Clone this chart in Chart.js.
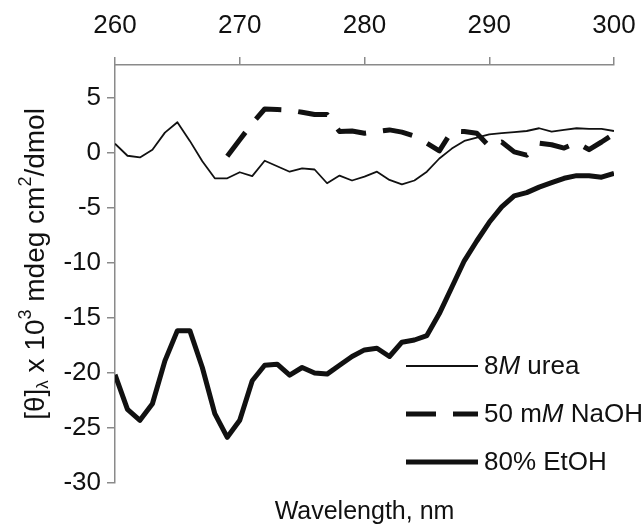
<!DOCTYPE html>
<html>
<head>
<meta charset="utf-8">
<script src="https://cdn.jsdelivr.net/npm/chart.js@4.4.1/dist/chart.umd.min.js"></script>
<style>
  html, body { margin: 0; padding: 0; background: #fff; }
  #wrap { width: 644px; height: 527px; position: relative; }
</style>
</head>
<body>
<div id="wrap"><canvas id="cd"></canvas></div>
<script>
// wavelength (nm) and mean residue ellipticity x 10^3
const wavelengths = [260, 261, 262, 263, 264, 265, 266, 267, 268, 269,
  270, 271, 272, 273, 274, 275, 276, 277, 278, 279,
  280, 281, 282, 283, 284, 285, 286, 287, 288, 289,
  290, 291, 292, 293, 294, 295, 296, 297, 298, 299, 300];

const urea = [0.85, -0.25, -0.4, 0.3, 1.85, 2.8, 1.1, -0.75, -2.3, -2.3,
  -1.75, -2.1, -0.7, -1.2, -1.7, -1.4, -1.5, -2.75, -2.05, -2.5,
  -2.15, -1.7, -2.45, -2.85, -2.5, -1.7, -0.5, 0.4, 1.1, 1.4,
  1.7, 1.8, 1.9, 2.0, 2.25, 1.95, 2.1, 2.25, 2.2, 2.2, 2.0];

const naoh = [null, null, null, null, null, null, null, null, null, -0.3,
  1.2, 2.7, 4.0, 3.95, 3.9, 3.7, 3.5, 3.5, 1.95, 2.0,
  1.8, 1.95, 2.1, 1.9, 1.55, 0.9, 0.2, 2.0, 1.95, 1.8,
  0.6, 1.0, 0.1, -0.2, 0.9, 0.75, 0.45, 0.95, 0.3, 1.0, 1.75];

const etoh = [-20.15, -23.3, -24.3, -22.8, -18.9, -16.15, -16.15, -19.5, -23.7, -25.85,
  -24.3, -20.7, -19.3, -19.2, -20.2, -19.5, -20.0, -20.1, -19.3, -18.5,
  -17.9, -17.75, -18.5, -17.2, -17.0, -16.6, -14.6, -12.2, -9.8, -8.0,
  -6.3, -4.9, -3.9, -3.6, -3.1, -2.7, -2.3, -2.06, -2.06, -2.2, -1.85];

const xTicks = [260, 270, 280, 290, 300];
const yTicks = [-30, -25, -20, -15, -10, -5, 0, 5];

const FONT = '"Liberation Sans", Arial, sans-serif';
const AXIS_GREY = '#8a8a8a';
const INK = '#111';

function pts(vals) {
  return wavelengths.map((w, i) => ({ x: w, y: vals[i] }));
}

// legend with italic M, drawn inside the plot area
const legendItems = [
  { parts: [['8', false], ['M', true], [' urea', false]], width: 1.8, dash: [] },
  { parts: [['50 m', false], ['M', true], [' NaOH', false]], width: 5, dash: [30, 17] },
  { parts: [['80% EtOH', false]], width: 5, dash: [] }
];

const textPlugin = {
  id: 'textPlugin',
  afterDraw(chart) {
    const ctx = chart.ctx;
    ctx.save();
    ctx.fillStyle = INK;
    ctx.strokeStyle = INK;
    ctx.textBaseline = 'middle';

    // legend
    let ly = 366;
    legendItems.forEach(item => {
      ctx.beginPath();
      ctx.lineWidth = item.width;
      ctx.setLineDash(item.dash);
      ctx.moveTo(406, ly);
      ctx.lineTo(478, ly);
      ctx.stroke();
      ctx.setLineDash([]);
      let tx = 484;
      item.parts.forEach(([t, it]) => {
        ctx.font = (it ? 'italic ' : '') + '26px ' + FONT;
        ctx.fillText(t, tx, ly + 1);
        tx += ctx.measureText(t).width;
      });
      ly += 48;
    });

    // y axis title with sub/superscripts
    const pieces = [
      ['[\u03b8]', 0, 1], ['\u03bb', 7, 0.6], [' x 10', 0, 1], ['3', -10, 0.65],
      [' mdeg cm', 0, 1], ['2', -10, 0.65], ['/dmol', 0, 1]
    ];
    const size = 28;
    let total = 0;
    pieces.forEach(p => {
      ctx.font = Math.round(size * p[2]) + 'px ' + FONT;
      total += ctx.measureText(p[0]).width;
    });
    ctx.translate(36, 264);
    ctx.rotate(-Math.PI / 2);
    let x = -total / 2;
    pieces.forEach(p => {
      ctx.font = Math.round(size * p[2]) + 'px ' + FONT;
      ctx.fillText(p[0], x, p[1]);
      x += ctx.measureText(p[0]).width;
    });
    ctx.restore();
  }
};

new Chart(document.getElementById('cd'), {
  type: 'line',
  data: {
    datasets: [
      { label: '8M urea', data: pts(urea), borderColor: INK, borderWidth: 1.8 },
      { label: '50 mM NaOH', data: pts(naoh), borderColor: INK, borderWidth: 5, borderDash: [30, 17], spanGaps: false },
      { label: '80% EtOH', data: pts(etoh), borderColor: INK, borderWidth: 5 }
    ]
  },
  options: {
    responsive: true,
    maintainAspectRatio: false,
    animation: false,
    layout: { padding: { left: 0, right: 30, top: 0, bottom: 0 } },
    elements: {
      point: { radius: 0 },
      line: { tension: 0, borderJoinStyle: 'round', borderCapStyle: 'butt', fill: false }
    },
    plugins: { legend: { display: false }, tooltip: { enabled: false } },
    scales: {
      x: {
        type: 'linear',
        position: 'top',
        min: 260,
        max: 300,
        afterBuildTicks: s => { s.ticks = xTicks.map(v => ({ value: v })); },
        afterFit: s => { s.height = 65; s.paddingLeft = 0; s.paddingRight = 0; },
        grid: { drawOnChartArea: false, drawTicks: true, tickLength: 8, color: AXIS_GREY, lineWidth: 1.5 },
        border: { display: true, color: AXIS_GREY, width: 1.5 },
        ticks: { color: INK, font: { family: FONT, size: 26 }, padding: 16, maxRotation: 0 }
      },
      xb: {
        type: 'linear',
        position: 'bottom',
        display: true,
        afterFit: s => { s.height = 44; s.paddingLeft = 0; s.paddingRight = 0; },
        grid: { display: false },
        border: { display: false },
        ticks: { display: false },
        title: { display: true, text: 'Wavelength, nm', color: INK, font: { family: FONT, size: 25 }, padding: { top: 9, bottom: 0 } }
      },
      y: {
        type: 'linear',
        min: -30,
        max: 8,
        afterBuildTicks: s => { s.ticks = yTicks.map(v => ({ value: v })); },
        afterFit: s => { s.width = 115; s.paddingTop = 0; s.paddingBottom = 0; },
        grid: { drawOnChartArea: false, drawTicks: true, tickLength: 8, color: AXIS_GREY, lineWidth: 1.5 },
        border: { display: true, color: AXIS_GREY, width: 1.5 },
        ticks: { color: INK, font: { family: FONT, size: 26 }, padding: 6 }
      }
    }
  },
  plugins: [textPlugin]
});
</script>
</body>
</html>
